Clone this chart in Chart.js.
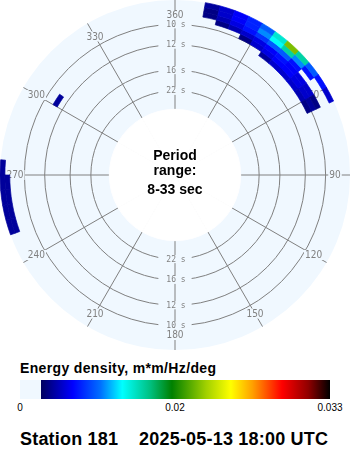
<!DOCTYPE html>
<html>
<head>
<meta charset="utf-8">
<script src="https://cdn.jsdelivr.net/npm/chart.js@4.4.1/dist/chart.umd.min.js"></script>
<style>
  html, body { margin: 0; padding: 0; background: #fff; width: 350px; height: 450px; overflow: hidden; }
  #wrap { position: relative; width: 350px; height: 450px; font-family: "Liberation Sans", Arial, sans-serif; color: #000; }
  #polar { position: absolute; left: 0; top: 0; }
  #cbTitle { position: absolute; left: 20px; top: 361px; font-size: 14px; line-height: 14px; font-weight: bold; letter-spacing: 0.35px; white-space: pre; }
  #cbBar { position: absolute; left: 20px; top: 380px; width: 310px; height: 19px; }
  .cbTick { position: absolute; top: 403px; font-size: 10px; line-height: 10px; transform: translateX(-50%); }
  #station { position: absolute; left: 20px; top: 430px; font-size: 18px; line-height: 18px; font-weight: bold; letter-spacing: 0.2px; white-space: pre; }
</style>
</head>
<body>
<div id="wrap">
  <canvas id="polar" width="350" height="350"></canvas>
  <div id="cbTitle"></div>
  <div id="cbBar"></div>
  <div id="cbTicks"></div>
  <div id="station"></div>
</div>
<script>
// direction labels (compass, every 30 deg) and period rings
const dirLabels = ['360', '30', '60', '90', '120', '150', '180', '210', '240', '270', '300', '330'];
const ringPeriods = [10, 12, 16, 22];
const ringLabels = ['10 s', '12 s', '16 s', '22 s'];
const periodMin = 8;
const periodMax = 33;

// spectrum grid: frequency band edges (Hz), 5 deg direction bins starting at 0
const freqEdges = [0.088, 0.092, 0.096, 0.100, 0.104, 0.108, 0.112, 0.116, 0.120];
const dirStep = 5;

// energy density per band (m*m/Hz/deg), 72 direction bins each, 6 bins per group = 30 deg
const band088 = [
  0, 0, 0, 0, 0, 0,   0, 0, 0, 0, 0, 0,   0, 0, 0, 0, 0, 0,   0, 0, 0, 0, 0, 0,
  0, 0, 0, 0, 0, 0,   0, 0, 0, 0, 0, 0,   0, 0, 0, 0, 0, 0,   0, 0, 0, 0, 0, 0,
  0, 0, 0, 0, 0, 0,   0, 0, 0, 0, 0, 0,   0.0035, 0, 0, 0, 0, 0,   0, 0, 0, 0, 0, 0
];
const band092 = [
  0, 0, 0, 0, 0, 0,   0, 0, 0, 0, 0, 0,   0, 0, 0, 0, 0, 0,   0, 0, 0, 0, 0, 0,
  0, 0, 0, 0, 0, 0,   0, 0, 0, 0, 0, 0,   0, 0, 0, 0, 0, 0,   0, 0, 0, 0, 0, 0,
  0, 0, 0, 0, 0, 0,   0, 0, 0, 0, 0, 0,   0, 0, 0, 0, 0, 0,   0, 0, 0, 0, 0, 0
];
const band096 = [
  0, 0, 0, 0, 0, 0,   0, 0.0035, 0.0045, 0.0045, 0.0045, 0.004,   0.003, 0, 0, 0, 0, 0,   0, 0, 0, 0, 0, 0,
  0, 0, 0, 0, 0, 0,   0, 0, 0, 0, 0, 0,   0, 0, 0, 0, 0, 0,   0, 0, 0, 0, 0, 0,
  0, 0, 0, 0, 0, 0,   0, 0, 0, 0, 0, 0,   0, 0, 0, 0, 0, 0,   0, 0, 0, 0, 0, 0
];
const band100 = [
  0, 0, 0, 0, 0, 0.003,   0.0045, 0.005, 0.0055, 0.0055, 0.005, 0.0045,   0.0035, 0, 0, 0, 0, 0,   0, 0, 0, 0, 0, 0,
  0, 0, 0, 0, 0, 0,   0, 0, 0, 0, 0, 0,   0, 0, 0, 0, 0, 0,   0, 0, 0, 0, 0, 0,
  0, 0, 0, 0, 0, 0,   0, 0, 0, 0, 0, 0,   0, 0, 0, 0, 0, 0,   0, 0, 0, 0, 0, 0
];
const band104 = [
  0, 0, 0, 0.003, 0.004, 0.0045,   0.005, 0.0055, 0.006, 0.0055, 0.005, 0.0045,   0.003, 0, 0, 0, 0, 0,   0, 0, 0, 0, 0, 0,
  0, 0, 0, 0, 0, 0,   0, 0, 0, 0, 0, 0,   0, 0, 0, 0, 0, 0,   0, 0, 0, 0, 0, 0,
  0, 0, 0, 0, 0, 0,   0, 0, 0, 0, 0, 0,   0, 0, 0, 0, 0, 0,   0, 0, 0, 0, 0, 0
];
const band108 = [
  0, 0, 0.003, 0.004, 0.005, 0.006,   0.007, 0.008, 0.008, 0.006, 0, 0,   0, 0, 0, 0, 0, 0,   0, 0, 0, 0, 0, 0,
  0, 0, 0, 0, 0, 0,   0, 0, 0, 0, 0, 0,   0, 0, 0, 0, 0, 0,   0, 0, 0, 0, 0, 0,
  0, 0, 0, 0, 0, 0,   0, 0, 0, 0, 0, 0,   0, 0, 0, 0, 0, 0,   0, 0, 0, 0, 0, 0
];
const band112 = [
  0, 0, 0.003, 0.0045, 0.0055, 0.0065,   0.009, 0.011, 0.013, 0.009, 0.006, 0,   0, 0, 0, 0, 0, 0,   0, 0, 0, 0, 0, 0,
  0, 0, 0, 0, 0, 0,   0, 0, 0, 0, 0, 0,   0, 0, 0, 0, 0, 0,   0, 0, 0, 0, 0, 0,
  0, 0, 0.0035, 0.0035, 0.0035, 0.0035,   0, 0, 0, 0, 0, 0,   0, 0, 0, 0, 0, 0,   0, 0, 0, 0, 0, 0
];
const band116 = [
  0, 0, 0.0035, 0.0045, 0.0055, 0.0065,   0.008, 0.012, 0.019, 0.013, 0.008, 0.006,   0.0045, 0, 0, 0, 0, 0,   0, 0, 0, 0, 0, 0,
  0, 0, 0, 0, 0, 0,   0, 0, 0, 0, 0, 0,   0, 0, 0, 0, 0, 0,   0, 0, 0, 0, 0, 0,
  0, 0, 0.0035, 0.0035, 0.0035, 0.0035,   0.0035, 0, 0, 0, 0, 0,   0, 0, 0, 0, 0, 0,   0, 0, 0, 0, 0, 0
];
const bands = [band088, band092, band096, band100, band104, band108, band112, band116];

// colour scale
const eMax = 0.033;
const eMinShown = 0.00225;
const cbTickValues = [0, 0.0165, 0.033];
const cbTickLabels = ['0', '0.02', '0.033'];
const cmapPos = [0.068, 0.17, 0.26, 0.33, 0.42, 0.49, 0.60, 0.68, 0.75, 0.845, 0.93, 1.0];
const cmapCol = ['#000060', '#0000ff', '#0070ff', '#00ffff', '#00c080', '#008000', '#a0d000', '#ffff00', '#ffa000', '#ff0000', '#900000', '#000000'];

const stationName = 'Station 181';
const stamp = '2025-05-13 18:00 UTC';

const diskColor = '#f0f8ff';
const gridColor = '#808080';
const freqAtCenter = freqEdges[freqEdges.length - 1] - 175 / 1219;

function hexRgb(h) {
  return [parseInt(h.slice(1, 3), 16), parseInt(h.slice(3, 5), 16), parseInt(h.slice(5, 7), 16)];
}

function energyColor(e) {
  if (!(e >= eMinShown)) return null;
  const f = Math.min(e / eMax, 1);
  let i = 0;
  while (i < cmapPos.length - 2 && f > cmapPos[i + 1]) i++;
  const t = Math.max(0, Math.min(1, (f - cmapPos[i]) / (cmapPos[i + 1] - cmapPos[i])));
  const a = hexRgb(cmapCol[i]), b = hexRgb(cmapCol[i + 1]);
  const c = a.map((v, k) => Math.round(v + (b[k] - v) * t));
  return 'rgb(' + c.join(',') + ')';
}

// light blue disk under the grid
const diskPlugin = {
  id: 'disk',
  beforeDraw(chart) {
    const s = chart.scales.r;
    const ctx = chart.ctx;
    ctx.save();
    ctx.fillStyle = diskColor;
    ctx.beginPath();
    ctx.arc(s.xCenter, s.yCenter, s.getDistanceFromCenterForValue(s.max), 0, Math.PI * 2);
    ctx.fill();
    ctx.restore();
  }
};

// labels on the grid, then the spectrum cells on top
const spectrumPlugin = {
  id: 'spectrum',
  beforeDatasetsDraw(chart) {
    const s = chart.scales.r;
    const ctx = chart.ctx;
    const cx = s.xCenter, cy = s.yCenter;
    ctx.save();

    // period ring labels, above and below the centre
    ctx.font = '8px "DejaVu Sans Mono", monospace';
    ctx.textAlign = 'center';
    ctx.textBaseline = 'middle';
    ringPeriods.forEach((p, i) => {
      const r = s.getDistanceFromCenterForValue(1 / p);
      const w = ctx.measureText(ringLabels[i]).width + 14;
      [cy - r, cy + r].forEach(y => {
        ctx.fillStyle = diskColor;
        ctx.fillRect(cx - w / 2, y - 4, w, 8);
        ctx.fillStyle = gridColor;
        ctx.fillText(ringLabels[i], cx + 1, y + 0.5);
      });
    });

    // direction labels
    ctx.font = '10px "Liberation Sans Narrow", "DejaVu Sans Condensed", sans-serif';
    dirLabels.forEach((lab, i) => {
      const p = s.getPointPosition(i, s.drawingArea - 15);
      const w = ctx.measureText(lab).width + 2;
      ctx.fillStyle = diskColor;
      ctx.fillRect(p.x - w / 2, p.y - 5, w, 10);
      ctx.fillStyle = gridColor;
      ctx.fillText(lab, p.x, p.y + 0.5);
    });

    // spectrum cells
    bands.forEach((row, k) => {
      const r0 = s.getDistanceFromCenterForValue(freqEdges[k]);
      const r1 = s.getDistanceFromCenterForValue(freqEdges[k + 1]);
      row.forEach((e, j) => {
        const col = energyColor(e);
        if (!col) return;
        const a0 = (j * dirStep) * Math.PI / 180 - Math.PI / 2;
        const a1 = ((j + 1) * dirStep) * Math.PI / 180 - Math.PI / 2;
        ctx.beginPath();
        ctx.arc(cx, cy, r1, a0, a1);
        ctx.arc(cx, cy, r0, a1, a0, true);
        ctx.closePath();
        ctx.fillStyle = col;
        ctx.strokeStyle = col;
        ctx.lineWidth = 0.7;
        ctx.fill();
        ctx.stroke();
      });
    });
    ctx.restore();
  },
  afterDraw(chart) {
    const s = chart.scales.r;
    const ctx = chart.ctx;
    ctx.save();
    ctx.fillStyle = '#000';
    ctx.font = 'bold 14px "Liberation Sans", Arial, sans-serif';
    ctx.textAlign = 'center';
    ctx.textBaseline = 'alphabetic';
    ctx.fillText('Period', s.xCenter, s.yCenter - 15);
    ctx.fillText('range:', s.xCenter, s.yCenter);
    ctx.fillText(periodMin + '-' + periodMax + ' sec', s.xCenter, s.yCenter + 19);
    ctx.restore();
  }
};

new Chart(document.getElementById('polar'), {
  type: 'polarArea',
  data: {
    labels: dirLabels,
    datasets: [{
      // inner limit of the period range (longest period) is left blank
      data: dirLabels.map(() => 1 / periodMax),
      backgroundColor: '#ffffff',
      borderColor: '#ffffff',
      borderWidth: 1
    }]
  },
  options: {
    responsive: false,
    animation: false,
    events: [],
    layout: { padding: 0 },
    plugins: { legend: { display: false }, tooltip: { enabled: false } },
    scales: {
      r: {
        min: freqAtCenter,
        max: freqEdges[freqEdges.length - 1],
        startAngle: 0,
        ticks: { display: false },
        afterBuildTicks: scale => { scale.ticks = ringPeriods.map(p => ({ value: 1 / p })); },
        grid: { circular: true, color: gridColor, lineWidth: 1 },
        angleLines: { display: true, color: gridColor, lineWidth: 1 },
        pointLabels: { display: false }
      }
    }
  },
  plugins: [diskPlugin, spectrumPlugin]
});

// colour bar legend
document.getElementById('cbTitle').textContent = 'Energy density, m*m/Hz/deg';
const startPct = (eMinShown / eMax * 100).toFixed(2) + '%';
let grad = 'linear-gradient(to right, ' + diskColor + ' 0%, ' + diskColor + ' ' + startPct;
cmapPos.forEach((p, i) => { grad += ', ' + cmapCol[i] + ' ' + (i === 0 ? startPct : (p * 100).toFixed(2) + '%'); });
grad += ')';
document.getElementById('cbBar').style.background = grad;
const tickBox = document.getElementById('cbTicks');
cbTickValues.forEach((v, i) => {
  const d = document.createElement('div');
  d.className = 'cbTick';
  d.style.left = (20 + v / eMax * 310) + 'px';
  d.textContent = cbTickLabels[i];
  tickBox.appendChild(d);
});
document.getElementById('station').textContent = stationName + '    ' + stamp;
</script>
</body>
</html>
